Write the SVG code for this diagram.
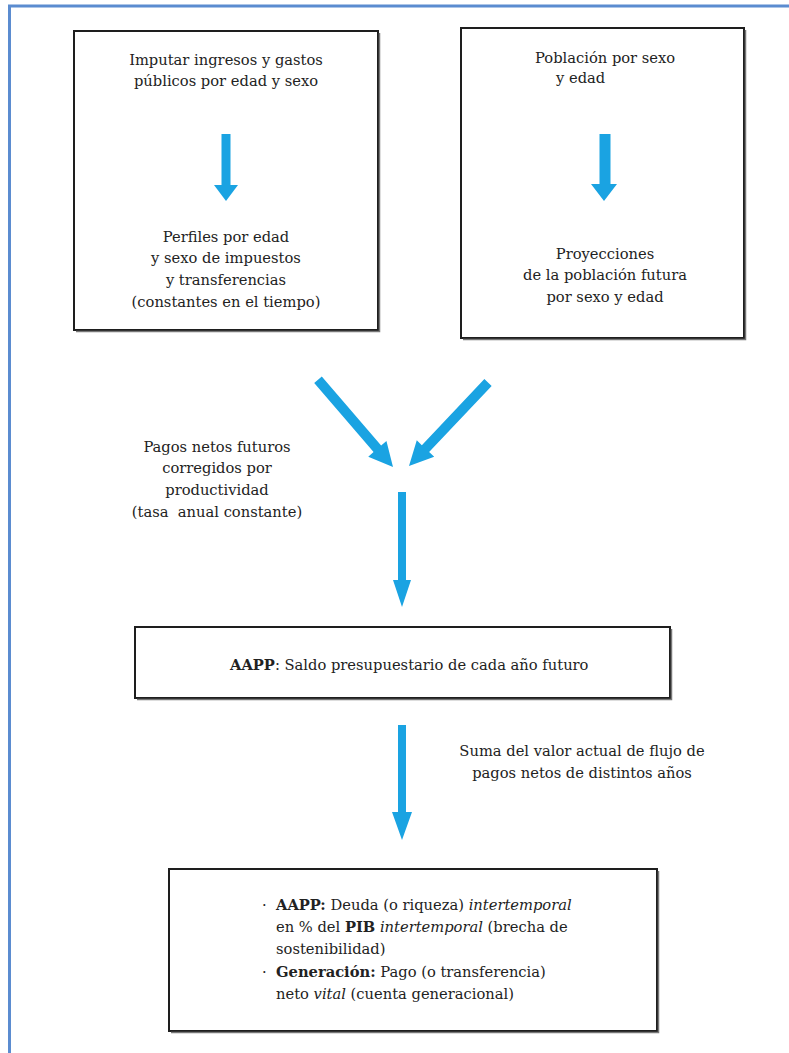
<svg xmlns="http://www.w3.org/2000/svg" width="789" height="1053" viewBox="0 0 789 1053">
<style>
.t{font-family:"DejaVu Serif","Liberation Serif",serif;font-size:14.7px;fill:#222}
.m{text-anchor:middle}
.b{font-weight:bold}
.i{font-style:italic}
.box{fill:#fff;stroke:#1e1e1e;stroke-width:2}
.sh{fill:none;stroke:#777;stroke-width:1.5}
.arr{fill:#1aa3e2}
.frame{fill:none;stroke:#5b8cd0;stroke-width:3}
</style>
<rect x="0" y="0" width="789" height="1053" fill="#fff"/>
<path class="frame" d="M9.5,1053 V6 H789"/>

<g id="box-imputar">
  <rect class="box" x="74" y="31" width="304" height="299"/>
  <path class="sh" d="M379.5,33 V331.5 H76"/>
  <text class="t m" x="226" y="65">Imputar ingresos y gastos</text>
  <text class="t m" x="226" y="86">públicos por edad y sexo</text>
  <text class="t m" x="226" y="242">Perfiles por edad</text>
  <text class="t m" x="226" y="263">y sexo de impuestos</text>
  <text class="t m" x="226" y="285">y transferencias</text>
  <text class="t m" x="226" y="307">(constantes en el tiempo)</text>
</g>

<g id="box-poblacion">
  <rect class="box" x="461" y="28" width="283" height="310"/>
  <path class="sh" d="M745.5,30 V339.5 H463"/>
  <text class="t" x="535" y="63">Población por sexo</text>
  <text class="t" x="556" y="83">y edad</text>
  <text class="t m" x="605" y="259">Proyecciones</text>
  <text class="t m" x="605" y="280">de la población futura</text>
  <text class="t m" x="605" y="302">por sexo y edad</text>
</g>

<g id="label-pagos">
  <text class="t m" x="217" y="452">Pagos netos futuros</text>
  <text class="t m" x="217" y="473">corregidos por</text>
  <text class="t m" x="217" y="495">productividad</text>
  <text class="t m" x="217" y="517" style="white-space:pre">(tasa  anual constante)</text>
</g>

<g id="box-saldo">
  <rect class="box" x="135" y="627" width="535" height="71"/>
  <path class="sh" d="M671.5,629 V699.5 H137"/>
  <text class="t" x="230" y="670"><tspan class="b">AAPP</tspan>: Saldo presupuestario de cada año futuro</text>
</g>

<g id="label-suma">
  <text class="t m" x="582" y="756">Suma del valor actual de flujo de</text>
  <text class="t m" x="582" y="778">pagos netos de distintos años</text>
</g>

<g id="box-deuda">
  <rect class="box" x="169" y="869" width="488" height="162"/>
  <path class="sh" d="M658.5,871 V1032.5 H171"/>
  <text class="t" x="262" y="910">·</text>
  <text class="t" x="276" y="910"><tspan class="b">AAPP:</tspan> Deuda (o riqueza) <tspan class="i">intertemporal</tspan></text>
  <text class="t" x="276" y="932">en % del <tspan class="b">PIB</tspan> <tspan class="i">intertemporal</tspan> (brecha de</text>
  <text class="t" x="276" y="954">sostenibilidad)</text>
  <text class="t" x="262" y="977">·</text>
  <text class="t" x="276" y="977"><tspan class="b">Generación:</tspan> Pago (o transferencia)</text>
  <text class="t" x="276" y="999">neto <tspan class="i">vital</tspan> (cuenta generacional)</text>
</g>

<g id="connectors">
  <polygon class="arr" points="221.5,134 230.5,134 230.5,185 238,185 226,201 214,185 221.5,185"/>
  <polygon class="arr" points="599.5,134 610.5,134 610.5,184 617,184 604,201 591,184 599.5,184"/>
  <polygon class="arr" points="-5,-115 5,-115 5,-24 12,-24 0,0 -12,-24 -5,-24" transform="translate(393,467) rotate(-40.7)"/>
  <polygon class="arr" points="-5,-115 5,-115 5,-24 12,-24 0,0 -12,-24 -5,-24" transform="translate(409,466) rotate(43.4)"/>
  <polygon class="arr" points="398,492 406,492 406,580 411,580 402,607 393,580 398,580"/>
  <polygon class="arr" points="398,725 406,725 406,812 412,812 402,840 392,812 398,812"/>
</g>
</svg>
